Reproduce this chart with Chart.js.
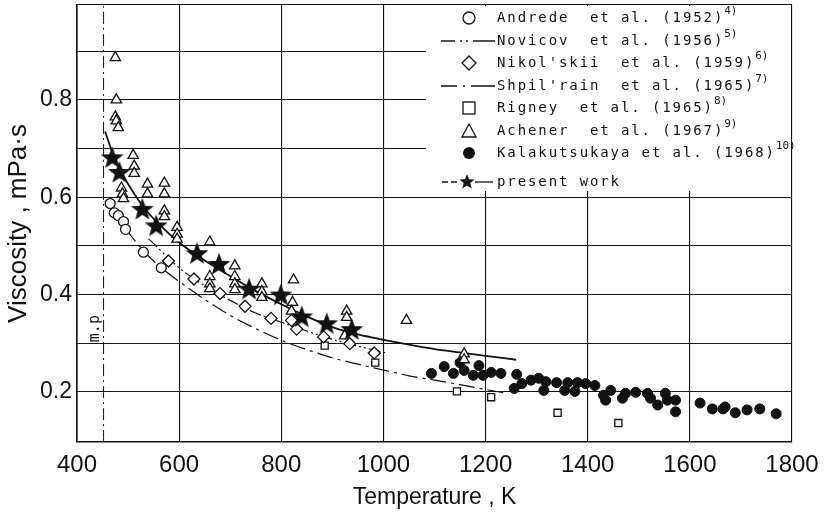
<!DOCTYPE html>
<html>
<head>
<meta charset="utf-8">
<script src="https://cdn.jsdelivr.net/npm/chart.js@4/dist/chart.umd.min.js"></script>
<style>
  html, body { margin: 0; padding: 0; background: #fff; }
  #wrap { width: 825px; height: 516px; }
</style>
</head>
<body>
<div id="wrap"><canvas id="c" width="825" height="516"></canvas></div>
<script>
// Viscosity of liquid lithium vs temperature.
const meltT = 452;

const andredeT = [465, 473, 481, 491, 495, 530, 565];
const andredeV = [0.587, 0.568, 0.562, 0.550, 0.534, 0.487, 0.455];

const nikolskiiT = [579, 629, 680, 729, 780, 820, 830, 883, 934, 982];
const nikolskiiV = [0.469, 0.432, 0.402, 0.376, 0.351, 0.347, 0.329, 0.313, 0.299, 0.280];

const rigneyT = [885, 984, 1144, 1211, 1341, 1460];
const rigneyV = [0.295, 0.260, 0.201, 0.189, 0.157, 0.136];

const achenerT = [475, 477, 475, 477, 481, 510, 512, 512, 487, 489, 491, 538, 538, 571, 571, 571, 571,
  596, 596, 596, 660, 660, 660, 660, 709, 709, 709, 709, 762, 762, 762, 824, 822, 820, 928, 928, 924, 1045, 1158, 1158];
const achenerV = [0.887, 0.800, 0.765, 0.757, 0.743, 0.686, 0.664, 0.649, 0.619, 0.607, 0.597, 0.627, 0.607, 0.629, 0.607, 0.572, 0.560,
  0.538, 0.524, 0.514, 0.508, 0.437, 0.422, 0.412, 0.459, 0.437, 0.422, 0.410, 0.422, 0.406, 0.394, 0.430, 0.384, 0.366, 0.366, 0.353, 0.315, 0.347, 0.278, 0.266];

const kalakT = [1094, 1119, 1137, 1150, 1158, 1176, 1187, 1195, 1211, 1230, 1261, 1256, 1271, 1289, 1304, 1314, 1318,
  1339, 1355, 1361, 1380, 1375, 1396, 1414, 1431, 1445, 1435, 1474, 1468, 1494, 1517, 1523, 1537, 1556, 1552,
  1572, 1572, 1620, 1644, 1665, 1669, 1689, 1712, 1737, 1769];
const kalakV = [0.238, 0.252, 0.238, 0.260, 0.244, 0.234, 0.254, 0.234, 0.240, 0.238, 0.236, 0.207, 0.217, 0.224, 0.228, 0.203, 0.221,
  0.219, 0.203, 0.219, 0.219, 0.201, 0.217, 0.213, 0.193, 0.203, 0.183, 0.197, 0.187, 0.199, 0.197, 0.187, 0.173, 0.183, 0.197,
  0.183, 0.159, 0.177, 0.165, 0.165, 0.169, 0.157, 0.163, 0.165, 0.155];

const presentT = [469, 483, 528, 555, 635, 678, 737, 799, 840, 889, 938];
const presentV = [0.680, 0.650, 0.574, 0.540, 0.483, 0.461, 0.410, 0.398, 0.353, 0.339, 0.327];

const presentCurveT = [455, 470, 485, 500, 530, 560, 600, 650, 700, 750, 800, 850, 900, 950, 1000, 1050, 1100, 1150, 1200, 1260];
const presentCurveV = [0.735, 0.690, 0.655, 0.627, 0.580, 0.545, 0.507, 0.470, 0.438, 0.407, 0.380, 0.355, 0.333, 0.318, 0.307, 0.297, 0.288, 0.281, 0.274, 0.266];

const novicovT = [540, 600, 650, 700, 750, 800, 850, 900, 950, 1005];
const novicovV = [0.515, 0.455, 0.418, 0.388, 0.362, 0.343, 0.325, 0.308, 0.294, 0.280];

const shpilrainT = [495, 530, 565, 600, 650, 700, 750, 800, 850, 900, 950, 1000, 1050, 1100, 1150, 1200, 1236];
const shpilrainV = [0.535, 0.490, 0.455, 0.427, 0.390, 0.357, 0.330, 0.306, 0.287, 0.270, 0.257, 0.245, 0.233, 0.224, 0.215, 0.205, 0.198];

const xTicks = [400, 600, 800, 1000, 1200, 1400, 1600, 1800];
const yLabelled = [0.2, 0.4, 0.6, 0.8];

const legendRows = [
  ['circle', 'Andrede  et al. (1952)', '4)'],
  ['dashdotdot', 'Novicov  et al. (1956)', '5)'],
  ['diamond', "Nikol'skii  et al. (1959)", '6)'],
  ['dashdot', "Shpil'rain  et al. (1965)", '7)'],
  ['square', 'Rigney  et al. (1965)', '8)'],
  ['triangle', 'Achener  et al. (1967)', '9)'],
  ['dot', 'Kalakutsukaya et al. (1968)', '10)'],
  ['star', 'present work', ''],
];

const INK = '#111';
const FONT = "'Liberation Sans', Arial, sans-serif";
const MONO = "'DejaVu Sans Mono', 'Liberation Mono', monospace";

function pts(xs, ys) {
  return xs.map((x, i) => ({ x, y: ys[i] }));
}

function starPath(ctx, cx, cy, R, r) {
  ctx.beginPath();
  for (let i = 0; i < 10; i++) {
    const a = -Math.PI / 2 + (i * Math.PI) / 5;
    const rad = i % 2 === 0 ? R : r;
    ctx.lineTo(cx + rad * Math.cos(a), cy + rad * Math.sin(a));
  }
  ctx.closePath();
}

function makeStar(R) {
  const c = document.createElement('canvas');
  c.width = c.height = R * 2 + 2;
  const g = c.getContext('2d');
  starPath(g, R + 1, R + 1, R, R * 0.42);
  g.fillStyle = INK;
  g.fill();
  return c;
}

const starImg = makeStar(12);

// Scanned-paper legend box, drawn by hand so the superscripts and mixed symbols fit.
const paperLegend = {
  id: 'paperLegend',
  beforeDatasetsDraw(chart) {
    const { ctx, chartArea } = chart;
    ctx.save();
    ctx.fillStyle = '#fff';
    ctx.fillRect(chartArea.right - 366, chartArea.top + 1, 365, 185);
    ctx.restore();
  },
  afterDraw(chart) {
    const { ctx, chartArea, scales } = chart;
    ctx.save();
    // m.p. label beside the melting point line
    const mx = scales.x.getPixelForValue(meltT) - 8;
    const my = scales.y.getPixelForValue(0.33);
    ctx.translate(mx, my);
    ctx.rotate(-Math.PI / 2);
    ctx.font = '15px ' + MONO;
    ctx.fillStyle = INK;
    ctx.textAlign = 'center';
    ctx.textBaseline = 'middle';
    ctx.fillText('m.p', 0, 0);
    ctx.setTransform(1, 0, 0, 1, 0, 0);

    const symX = chartArea.right - 323;
    const textX = chartArea.right - 295;
    const rowY = [18, 41, 63, 86, 108, 131, 153, 182];
    ctx.strokeStyle = INK;
    ctx.fillStyle = INK;
    ctx.lineWidth = 1.3;
    legendRows.forEach((row, i) => {
      const [kind, label, sup] = row;
      const y = rowY[i];
      ctx.setLineDash([]);
      if (kind === 'circle') {
        ctx.beginPath();
        ctx.arc(symX, y, 6, 0, Math.PI * 2);
        ctx.stroke();
      } else if (kind === 'diamond') {
        ctx.beginPath();
        ctx.moveTo(symX, y - 7);
        ctx.lineTo(symX + 7, y);
        ctx.lineTo(symX, y + 7);
        ctx.lineTo(symX - 7, y);
        ctx.closePath();
        ctx.stroke();
      } else if (kind === 'square') {
        ctx.strokeRect(symX - 6, y - 6, 12, 12);
      } else if (kind === 'triangle') {
        ctx.beginPath();
        ctx.moveTo(symX, y - 7);
        ctx.lineTo(symX + 7, y + 6);
        ctx.lineTo(symX - 7, y + 6);
        ctx.closePath();
        ctx.stroke();
      } else if (kind === 'dot') {
        ctx.beginPath();
        ctx.arc(symX, y, 6, 0, Math.PI * 2);
        ctx.fill();
      } else if (kind === 'dashdotdot' || kind === 'dashdot') {
        ctx.setLineDash(kind === 'dashdot' ? [16, 6, 2, 6, 24] : [14, 5, 2, 4, 2, 5, 24]);
        ctx.beginPath();
        ctx.moveTo(symX - 28, y);
        ctx.lineTo(symX + 26, y);
        ctx.stroke();
        ctx.setLineDash([]);
      } else if (kind === 'star') {
        ctx.setLineDash([6, 3]);
        ctx.beginPath();
        ctx.moveTo(symX - 27, y);
        ctx.lineTo(symX - 10, y);
        ctx.stroke();
        ctx.setLineDash([]);
        ctx.beginPath();
        ctx.moveTo(symX + 6, y);
        ctx.lineTo(symX + 24, y);
        ctx.stroke();
        starPath(ctx, symX - 2, y, 8, 3.4);
        ctx.fill();
      }
      ctx.font = '14px ' + MONO;
      ctx.letterSpacing = '1.9px';
      ctx.textAlign = 'left';
      ctx.textBaseline = 'middle';
      ctx.fillText(label, textX, y);
      if (sup) {
        const w = ctx.measureText(label).width;
        ctx.font = '11px ' + MONO;
        ctx.letterSpacing = '0px';
        ctx.fillText(sup, textX + w, y - 7);
      }
    });
    ctx.restore();
  },
};

const lineStyle = {
  type: 'line',
  showLine: true,
  pointRadius: 0,
  borderColor: INK,
  fill: false,
  cubicInterpolationMode: 'monotone',
};

new Chart(document.getElementById('c'), {
  type: 'scatter',
  data: {
    datasets: [
      { label: 'present work', data: pts(presentT, presentV), pointStyle: starImg, pointRadius: 12 },
      { label: 'Andrede', data: pts(andredeT, andredeV), pointStyle: 'circle', pointRadius: 5,
        backgroundColor: '#fff', borderColor: INK, borderWidth: 1.3 },
      { label: "Nikol'skii", data: pts(nikolskiiT, nikolskiiV), pointStyle: 'rectRot', pointRadius: 6,
        backgroundColor: '#fff', borderColor: INK, borderWidth: 1.3 },
      { label: 'Rigney', data: pts(rigneyT, rigneyV), pointStyle: 'rect', pointRadius: 5,
        backgroundColor: '#fff', borderColor: INK, borderWidth: 1.3 },
      { label: 'Achener', data: pts(achenerT, achenerV), pointStyle: 'triangle', pointRadius: 6,
        backgroundColor: '#fff', borderColor: INK, borderWidth: 1.3 },
      { label: 'Kalakutsukaya', data: pts(kalakT, kalakV), pointStyle: 'circle', pointRadius: 5,
        backgroundColor: INK, borderColor: INK, borderWidth: 1 },
      Object.assign({ label: 'present curve', data: pts(presentCurveT, presentCurveV), borderWidth: 1.8 }, lineStyle),
      Object.assign({ label: 'Novicov', data: pts(novicovT, novicovV), borderWidth: 1.2,
        borderDash: [12, 3, 2, 3, 2, 3] }, lineStyle),
      Object.assign({ label: "Shpil'rain", data: pts(shpilrainT, shpilrainV), borderWidth: 1.2,
        borderDash: [16, 5, 3, 5] }, lineStyle),
      Object.assign({ label: 'm.p.', data: pts([meltT, meltT], [0.097, 0.995]), borderWidth: 1,
        borderDash: [12, 4, 2, 4] }, lineStyle),
    ],
  },
  options: {
    responsive: false,
    animation: false,
    events: [],
    // autoPadding off: the big star markers would otherwise push the plot down
    layout: { autoPadding: false, padding: { top: 5, right: 33, left: 0, bottom: 0 } },
    plugins: { legend: { display: false }, tooltip: { enabled: false } },
    scales: {
      x: {
        type: 'linear',
        min: 400,
        max: 1800,
        afterFit: (s) => { s.height = 74; s.paddingLeft = 0; s.paddingRight = 0; },
        afterBuildTicks: (s) => { s.ticks = xTicks.map((v) => ({ value: v })); },
        grid: { color: INK, lineWidth: 1.1, drawTicks: false },
        border: { color: INK, width: 1.6 },
        ticks: { color: INK, padding: 9, maxRotation: 0, autoSkip: false, font: { family: FONT, size: 24 },
          callback: (v) => String(v) },
        title: { display: true, text: 'Temperature , K', color: INK, padding: { top: 0, bottom: 5 },
          font: { family: FONT, size: 23 } },
      },
      y: {
        type: 'linear',
        min: 0.097,
        max: 0.995,
        afterFit: (s) => { s.width = 77; s.paddingTop = 0; s.paddingBottom = 0; },
        ticks: {
          stepSize: 0.1,
          color: INK,
          padding: 5,
          font: { family: FONT, size: 23 },
          callback: (v) => (yLabelled.some((t) => Math.abs(t - v) < 1e-6) ? v.toFixed(1) : ''),
        },
        grid: { color: INK, lineWidth: 1.1, drawTicks: false },
        border: { color: INK, width: 1.6 },
        title: { display: true, text: 'Viscosity , mPa·s', color: INK, padding: { top: 3, bottom: 0 },
          font: { family: FONT, size: 26 } },
      },
    },
  },
  plugins: [paperLegend],
});
</script>
</body>
</html>
